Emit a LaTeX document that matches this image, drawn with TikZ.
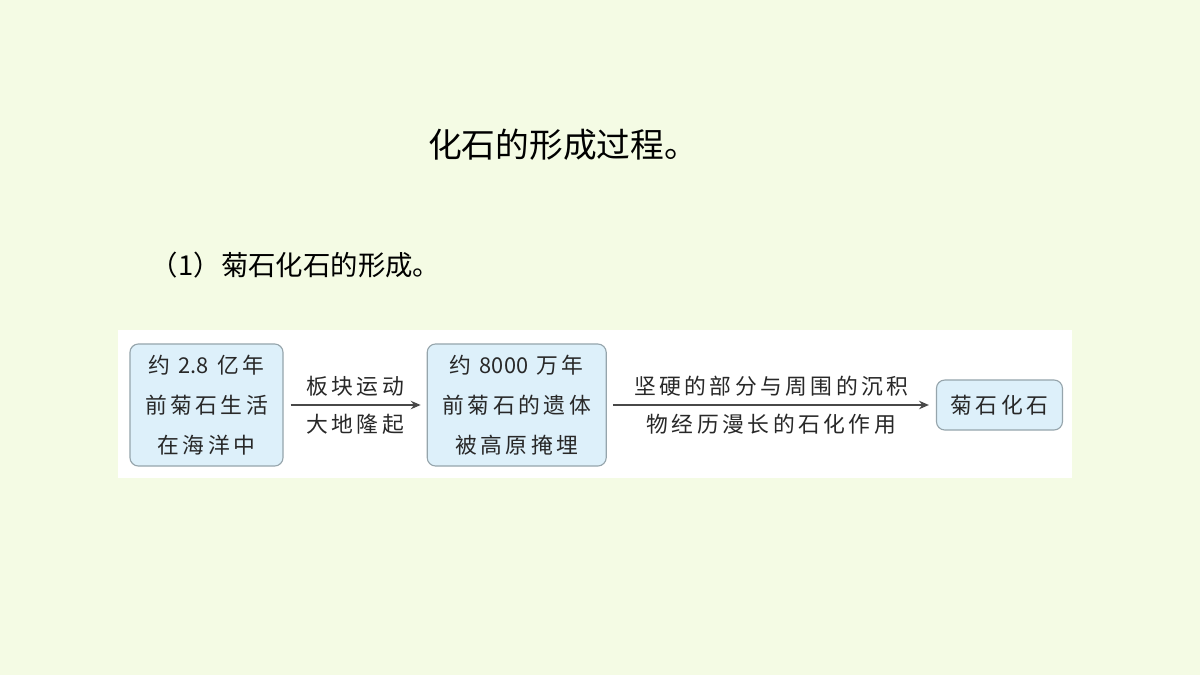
\documentclass[tikz,border=0pt]{standalone}
\usepackage{fontspec}
\usepackage{tikz}
\usetikzlibrary{positioning,arrows.meta}
\setmainfont{Noto Sans CJK SC}
\newfontfamily\boxfont[LetterSpace=16]{Noto Sans CJK SC}
\newfontfamily\numfont{Noto Sans CJK SC}
\definecolor{pagegreen}{RGB}{244,251,228}
\definecolor{stagefill}{RGB}{221,240,250}
\definecolor{stageline}{RGB}{150,165,172}
\definecolor{inkgray}{RGB}{40,40,40}

\tikzset{
  stage/.style={rectangle, rounded corners=6pt, draw=stageline, thick, fill=stagefill,
    align=center, text=inkgray, font=\boxfont\fontsize{15.5pt}{28.5pt}\selectfont, inner sep=2pt},
  flow/.style={-{Stealth[length=7pt,width=6pt]}, thick, inkgray!85},
  flowlabel/.style={text=inkgray, font=\boxfont\fontsize{15.5pt}{20pt}\selectfont, inner sep=6pt}
}

\begin{document}
\begin{tikzpicture}[x=0.025cm,y=-0.025cm]
    % page and strip
    \fill[pagegreen] (0,0) rectangle (1200,675);
    \useasboundingbox (0,0) rectangle (1200,675);
    \fill[white] (118,330) rectangle (1072,478);

    % headings
    \node[font=\fontsize{24pt}{28pt}\selectfont] (title) at (563,145) {化石的形成过程。};
    \node[font=\fontsize{19.5pt}{24pt}\selectfont, anchor=west] (subtitle) at (146,265) {（1）菊石化石的形成。};

    % stage 1
    \node[stage, minimum width=3.825cm, minimum height=3.05cm] (live) at (206.5,405) {
        约 {\numfont 2.8} 亿年 \\
        前菊石生活 \\
        在海洋中
    };

    % stage 2
    \node[stage, minimum width=4.475cm, minimum height=3.05cm, right=3.575cm of live] (buried) {
        约 {\numfont 8000} 万年 \\
        前菊石的遗体 \\
        被高原掩埋
    };

    % stage 3
    \node[stage, minimum width=3.15cm, minimum height=1.25cm, right=8.225cm of buried] (fossil) {菊石化石};

    % arrows
    \draw[flow, shorten <=0.175cm, shorten >=0.15cm] (live) -- (buried)
        node[flowlabel, midway, above] {板块运动}
        node[flowlabel, midway, below] {大地隆起};
    \draw[flow, shorten <=0.15cm, shorten >=0.175cm] (buried) -- (fossil)
        node[flowlabel, midway, above] {坚硬的部分与周围的沉积}
        node[flowlabel, midway, below] {物经历漫长的石化作用};
\end{tikzpicture}
\end{document}
